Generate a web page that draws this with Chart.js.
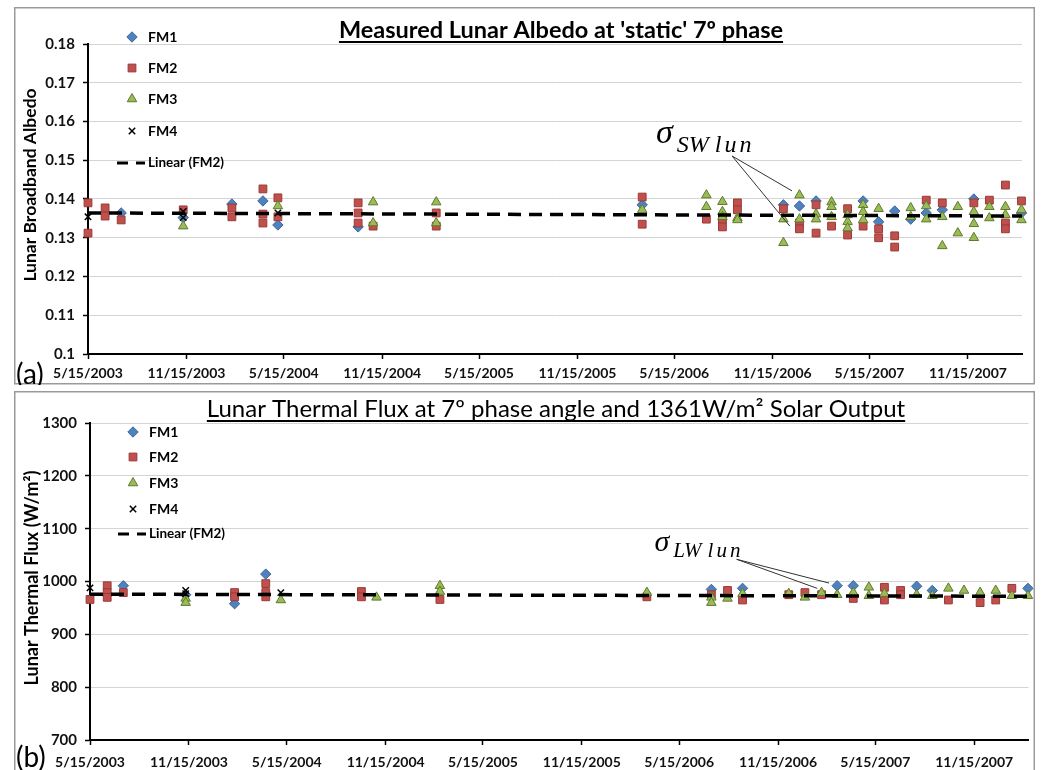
<!DOCTYPE html>
<html>
<head>
<meta charset="utf-8">
<script src="https://cdn.jsdelivr.net/npm/chart.js@4.4.1/dist/chart.umd.min.js"></script>
<style>
  body { margin: 0; background: #fff; }
  canvas { position: absolute; }
  #albedo-chart { left: 14px; top: 7px; }
  #flux-chart { left: 14px; top: 391px; }
</style>
</head>
<body>
<canvas id="albedo-chart" width="1021" height="378"></canvas>
<canvas id="flux-chart" width="1021" height="380"></canvas>
<script>
// x axis (shared by both panels)
const tickDates = ['2003-05-15', '2003-11-15', '2004-05-15', '2004-11-15', '2005-05-15',
                   '2005-11-15', '2006-05-15', '2006-11-15', '2007-05-15', '2007-11-15'];
const axisStart = '2003-05-15';
const axisEnd = '2008-02-24';

const albedoTicks = [0.1, 0.11, 0.12, 0.13, 0.14, 0.15, 0.16, 0.17, 0.18];
const fluxTicks = [700, 800, 900, 1000, 1100, 1200, 1300];

// (a) broadband albedo per instrument
const fm1Albedo = [
  ['2003-07-16', 0.1364], ['2003-11-09', 0.1352], ['2004-02-08', 0.1387], ['2004-04-06', 0.1395],
  ['2004-05-04', 0.1333], ['2004-10-01', 0.1328], ['2006-03-16', 0.1385], ['2006-12-05', 0.1385],
  ['2007-01-04', 0.1382], ['2007-02-04', 0.1395], ['2007-05-03', 0.1395], ['2007-06-01', 0.1341],
  ['2007-07-01', 0.1369], ['2007-07-31', 0.1348], ['2007-08-29', 0.1364], ['2007-09-28', 0.1372],
  ['2007-11-26', 0.1400], ['2008-02-23', 0.1364]
];
const fm2Albedo = [
  ['2003-05-15', 0.1390], ['2003-05-15', 0.1312], ['2003-06-16', 0.1377], ['2003-06-16', 0.1356],
  ['2003-07-16', 0.1346], ['2003-11-09', 0.1372], ['2004-02-08', 0.1377], ['2004-02-08', 0.1354],
  ['2004-04-06', 0.1426], ['2004-04-06', 0.1361], ['2004-04-06', 0.1338], ['2004-05-04', 0.1403],
  ['2004-05-04', 0.1354], ['2004-10-01', 0.1390], ['2004-10-01', 0.1364], ['2004-10-01', 0.1338],
  ['2004-10-29', 0.1330], ['2005-02-24', 0.1364], ['2005-02-24', 0.1330], ['2006-03-16', 0.1405],
  ['2006-03-16', 0.1335], ['2006-07-14', 0.1348], ['2006-08-13', 0.1346], ['2006-08-13', 0.1328],
  ['2006-09-10', 0.1390], ['2006-09-10', 0.1372], ['2006-12-05', 0.1375], ['2007-01-04', 0.1338],
  ['2007-01-04', 0.1323], ['2007-02-04', 0.1385], ['2007-02-04', 0.1312], ['2007-03-05', 0.1330],
  ['2007-04-04', 0.1375], ['2007-04-04', 0.1307], ['2007-05-03', 0.1330], ['2007-06-01', 0.1323],
  ['2007-06-01', 0.1300], ['2007-07-01', 0.1305], ['2007-07-01', 0.1276], ['2007-08-29', 0.1397],
  ['2007-09-28', 0.1390], ['2007-11-26', 0.1390], ['2007-12-25', 0.1397], ['2008-01-24', 0.1436],
  ['2008-01-24', 0.1338], ['2008-01-24', 0.1323], ['2008-02-23', 0.1395]
];
const fm3Albedo = [
  ['2003-11-09', 0.1330], ['2004-05-04', 0.1382], ['2004-10-29', 0.1392], ['2004-10-29', 0.1338],
  ['2005-02-24', 0.1392], ['2005-02-24', 0.1338], ['2006-03-16', 0.1372], ['2006-07-14', 0.1410],
  ['2006-07-14', 0.1380], ['2006-08-13', 0.1393], ['2006-08-13', 0.1367], ['2006-08-13', 0.1354],
  ['2006-09-10', 0.1351], ['2006-09-10', 0.1346], ['2006-12-05', 0.1348], ['2006-12-05', 0.1287],
  ['2007-01-04', 0.1410], ['2007-01-04', 0.1348], ['2007-02-04', 0.1361], ['2007-02-04', 0.1348],
  ['2007-03-05', 0.1392], ['2007-03-05', 0.1380], ['2007-03-05', 0.1354], ['2007-04-04', 0.1359],
  ['2007-04-04', 0.1341], ['2007-04-04', 0.1325], ['2007-05-03', 0.1385], ['2007-05-03', 0.1367],
  ['2007-05-03', 0.1346], ['2007-06-01', 0.1375], ['2007-07-31', 0.1377], ['2007-07-31', 0.1354],
  ['2007-08-29', 0.1382], ['2007-08-29', 0.1348], ['2007-09-28', 0.1354], ['2007-09-28', 0.1279],
  ['2007-10-27', 0.1380], ['2007-10-27', 0.1312], ['2007-11-26', 0.1367], ['2007-11-26', 0.1336],
  ['2007-11-26', 0.1300], ['2007-12-25', 0.1380], ['2007-12-25', 0.1351], ['2008-01-24', 0.1380],
  ['2008-01-24', 0.1359], ['2008-02-23', 0.1372], ['2008-02-23', 0.1346]
];
const fm4Albedo = [
  ['2003-05-15', 0.1354], ['2003-11-09', 0.1368], ['2003-11-09', 0.1352], ['2004-05-04', 0.1364]
];
const albedoTrend = [[axisStart, 0.1364], [axisEnd, 0.1356]];

// (b) thermal flux per instrument, W/m2
const fm1Flux = [
  ['2003-07-16', 992], ['2003-11-09', 975], ['2004-02-08', 958], ['2004-04-06', 1014],
  ['2006-07-14', 985], ['2006-09-10', 987], ['2007-03-05', 992], ['2007-04-04', 992],
  ['2007-07-31', 991], ['2007-08-29', 983], ['2008-02-23', 987]
];
const fm2Flux = [
  ['2003-05-15', 966], ['2003-06-16', 992], ['2003-06-16', 979], ['2003-06-16', 970],
  ['2003-07-16', 979], ['2004-02-08', 979], ['2004-02-08', 971], ['2004-04-06', 996],
  ['2004-04-06', 979], ['2004-04-06', 971], ['2004-10-01', 981], ['2004-10-01', 971],
  ['2005-02-24', 966], ['2006-03-16', 971], ['2006-07-14', 975], ['2006-08-13', 983],
  ['2006-09-10', 965], ['2006-12-05', 975], ['2007-01-04', 979], ['2007-02-04', 975],
  ['2007-04-04', 968], ['2007-06-01', 989], ['2007-06-01', 965], ['2007-07-01', 983],
  ['2007-07-01', 975], ['2007-09-28', 965], ['2007-11-26', 960], ['2007-12-25', 965],
  ['2008-01-24', 987]
];
const fm3Flux = [
  ['2003-11-09', 968], ['2003-11-09', 960], ['2004-05-04', 965], ['2004-10-29', 970],
  ['2005-02-24', 992], ['2005-02-24', 981], ['2006-03-16', 979], ['2006-07-14', 970],
  ['2006-07-14', 960], ['2006-08-13', 968], ['2006-09-10', 977], ['2006-12-05', 977],
  ['2007-01-04', 970], ['2007-02-04', 979], ['2007-03-05', 975], ['2007-04-04', 979],
  ['2007-05-03', 989], ['2007-05-03', 973], ['2007-06-01', 977], ['2007-07-31', 975],
  ['2007-08-29', 973], ['2007-09-28', 987], ['2007-10-27', 983], ['2007-11-26', 979],
  ['2007-12-25', 983], ['2008-01-24', 973], ['2008-02-23', 973]
];
const fm4Flux = [
  ['2003-05-15', 988], ['2003-11-09', 983], ['2003-11-09', 977], ['2004-05-04', 979]
];
const fluxTrend = [[axisStart, 976], [axisEnd, 972]];

const FONT = 'Lato, "Open Sans", sans-serif';
const SERIF = '"Liberation Serif", "DejaVu Serif", serif';

const toDay = s => Date.parse(s) / 864e5;
const toPoints = rows => rows.map(([d, v]) => ({ x: toDay(d), y: v }));
const fmtDate = v => {
  const d = new Date(v * 864e5);
  return `${d.getUTCMonth() + 1}/${d.getUTCDate()}/${d.getUTCFullYear()}`;
};

const markers = {
  FM1: { pointStyle: 'rectRot', radius: 5.2, fill: '#4F81BD', stroke: '#3B6799' },
  FM2: { pointStyle: 'rect', radius: 5.5, fill: '#C0504D', stroke: '#9A3A37' },
  FM3: { pointStyle: 'triangle', radius: 5.5, fill: '#9BBB59', stroke: '#5E7A2C' },
  FM4: { pointStyle: 'crossRot', radius: 4.5, fill: '#000', stroke: '#000' }
};

function seriesDataset(name, rows, order) {
  const m = markers[name];
  return {
    label: name,
    data: toPoints(rows),
    pointStyle: m.pointStyle,
    pointRadius: m.radius,
    backgroundColor: m.fill,
    borderColor: m.stroke,
    borderWidth: name === 'FM4' ? 1.5 : 1,
    showLine: false,
    clip: false,
    order
  };
}

function trendDataset(rows) {
  return {
    label: 'Linear (FM2)',
    data: toPoints(rows),
    showLine: true,
    borderColor: '#000',
    borderWidth: 3.5,
    borderDash: [13, 8],
    pointRadius: 0,
    clip: false,
    order: 0
  };
}

// titles, axis title, in-plot legend, panel tag and sigma callout
function panelDecor(p) {
  return {
    id: 'panelDecor',
    afterDraw(chart) {
      const { ctx, scales: { x, y } } = chart;
      ctx.save();

      ctx.strokeStyle = '#9a9a9a';
      ctx.lineWidth = 1.5;
      ctx.strokeRect(0.75, 0.75, chart.width - 1.5, p.frameH);

      // underlined title
      ctx.fillStyle = '#000';
      ctx.font = p.titleFont;
      ctx.textAlign = 'center';
      ctx.textBaseline = 'alphabetic';
      const tw = ctx.measureText(p.title).width;
      ctx.fillText(p.title, p.titleX, p.titleY);
      ctx.fillRect(p.titleX - tw / 2, p.titleY + 3, tw, 2);

      // rotated axis title
      ctx.save();
      ctx.translate(p.yTitleX, p.yTitleY);
      ctx.rotate(-Math.PI / 2);
      ctx.font = `bold ${p.yTitleSize}px ${FONT}`;
      ctx.textBaseline = 'middle';
      ctx.fillText(p.yTitle, 0, 0);
      ctx.restore();

      // legend
      ctx.textAlign = 'left';
      ctx.textBaseline = 'middle';
      ctx.font = `bold 14px ${FONT}`;
      ['FM1', 'FM2', 'FM3', 'FM4'].forEach((name, i) => {
        const m = markers[name];
        ctx.fillStyle = m.fill;
        ctx.strokeStyle = m.stroke;
        ctx.lineWidth = name === 'FM4' ? 1.5 : 1;
        Chart.helpers.drawPoint(ctx, { pointStyle: m.pointStyle, radius: m.radius, rotation: 0, borderWidth: 1 },
          p.legendX, p.legendRows[i]);
        ctx.fillStyle = '#000';
        ctx.fillText(name, p.legendX + 16, p.legendRows[i]);
      });
      const ly = p.legendRows[4];
      ctx.strokeStyle = '#000';
      ctx.lineWidth = 3;
      ctx.beginPath();
      ctx.moveTo(p.legendX - 15, ly); ctx.lineTo(p.legendX - 4, ly);
      ctx.moveTo(p.legendX + 4, ly); ctx.lineTo(p.legendX + 13, ly);
      ctx.stroke();
      ctx.font = `bold 13.5px ${FONT}`;
      ctx.fillText('Linear (FM2)', p.legendX + 16, ly);

      // panel tag
      ctx.font = `28px ${FONT}`;
      ctx.textBaseline = 'alphabetic';
      ctx.fillText(p.tag, 2, p.tagY);

      // sigma callout, anchored in data coordinates
      const s = p.sigma;
      const px = ([d, v]) => [x.getPixelForValue(toDay(d)), y.getPixelForValue(v)];
      const [sx, sy] = px(s.at);
      ctx.font = `italic ${s.size}px ${SERIF}`;
      ctx.fillText('σ', sx, sy);
      let cx = sx + ctx.measureText('σ').width + 4;
      ctx.font = `italic ${s.subSize}px ${SERIF}`;
      ctx.fillText(s.sub[0], cx, sy + s.subDrop);
      cx += ctx.measureText(s.sub[0]).width + 6;
      ctx.letterSpacing = '3px';
      ctx.fillText(s.sub[1], cx, sy + s.subDrop);
      ctx.letterSpacing = '0px';
      ctx.strokeStyle = '#333';
      ctx.lineWidth = 1;
      const [ox, oy] = px(s.from);
      s.to.forEach(t => {
        const [tx, ty] = px(t);
        ctx.beginPath();
        ctx.moveTo(ox, oy);
        ctx.lineTo(tx, ty);
        ctx.stroke();
      });

      ctx.restore();
    }
  };
}

function makeChart(id, cfg) {
  const xFont = { family: FONT, size: 14, weight: 'bold' };
  const yFont = { family: FONT, size: 15, weight: 'bold' };
  return new Chart(document.getElementById(id), {
    type: 'scatter',
    data: {
      datasets: [
        seriesDataset('FM1', cfg.fm1, 4),
        seriesDataset('FM2', cfg.fm2, 3),
        seriesDataset('FM3', cfg.fm3, 2),
        seriesDataset('FM4', cfg.fm4, 1),
        trendDataset(cfg.trend)
      ]
    },
    options: {
      responsive: false,
      animation: false,
      events: [],
      layout: { padding: { top: cfg.padTop, right: cfg.padRight, left: 0, bottom: 0 } },
      plugins: { legend: { display: false }, tooltip: { enabled: false }, title: { display: false } },
      scales: {
        x: {
          type: 'linear',
          min: toDay(axisStart),
          max: toDay(axisEnd),
          afterBuildTicks: s => { s.ticks = tickDates.map(d => ({ value: toDay(d) })); },
          afterFit: s => { s.height = cfg.xHeight; },
          grid: { drawOnChartArea: false, tickLength: 5, tickColor: '#000', tickWidth: 1.5 },
          border: { color: '#000', width: 2 },
          ticks: {
            callback: v => fmtDate(v),
            font: xFont, color: '#111', padding: cfg.xPad, maxRotation: 0, autoSkip: false
          }
        },
        y: {
          min: cfg.yTicks[0],
          max: cfg.yTicks[cfg.yTicks.length - 1],
          afterBuildTicks: s => { s.ticks = cfg.yTicks.map(v => ({ value: v })); },
          afterFit: s => { s.width = cfg.yWidth; },
          grid: { color: '#d4d4d4', lineWidth: 1, tickLength: 5, tickColor: '#000', tickWidth: 1.5 },
          border: { color: '#000', width: 2 },
          ticks: { callback: v => String(v), font: yFont, color: '#111', padding: 8 }
        }
      }
    },
    plugins: [panelDecor(cfg.decor)]
  });
}

makeChart('albedo-chart', {
  fm1: fm1Albedo, fm2: fm2Albedo, fm3: fm3Albedo, fm4: fm4Albedo, trend: albedoTrend,
  yTicks: albedoTicks,
  padTop: 37, padRight: 13, xHeight: 31, yWidth: 74, xPad: 6,
  decor: {
    frameH: 376,
    title: "Measured Lunar Albedo at 'static' 7º phase",
    titleFont: `bold 23.5px ${FONT}`, titleX: 547, titleY: 31,
    yTitle: 'Lunar Broadband Albedo', yTitleSize: 17.5, yTitleX: 16, yTitleY: 178,
    legendX: 118, legendRows: [30, 61, 92, 124, 156],
    tag: '(a)', tagY: 377,
    sigma: {
      sub: ['SW', 'lun'], size: 34, subSize: 24, subDrop: 9,
      at: ['2006-04-11', 0.1545],
      from: ['2006-08-31', 0.1511],
      to: [['2006-12-21', 0.1421], ['2006-12-17', 0.1330]]
    }
  }
});

makeChart('flux-chart', {
  fm1: fm1Flux, fm2: fm2Flux, fm3: fm3Flux, fm4: fm4Flux, trend: fluxTrend,
  yTicks: fluxTicks,
  padTop: 32, padRight: 6, xHeight: 31, yWidth: 76, xPad: 9,
  decor: {
    frameH: 400,
    title: 'Lunar Thermal Flux at 7º phase angle and 1361W/m² Solar Output',
    titleFont: `24px ${FONT}`, titleX: 542, titleY: 26,
    yTitle: 'Lunar Thermal Flux (W/m²)', yTitleSize: 18, yTitleX: 18, yTitleY: 187,
    legendX: 119, legendRows: [41, 66, 92, 118, 143],
    tag: '(b)', tagY: 376,
    sigma: {
      sub: ['LW', 'lun'], size: 30, subSize: 21, subDrop: 6,
      at: ['2006-03-30', 1057],
      from: ['2006-08-30', 1042],
      to: [['2007-02-18', 997], ['2007-01-27', 987]]
    }
  }
});
</script>
</body>
</html>
